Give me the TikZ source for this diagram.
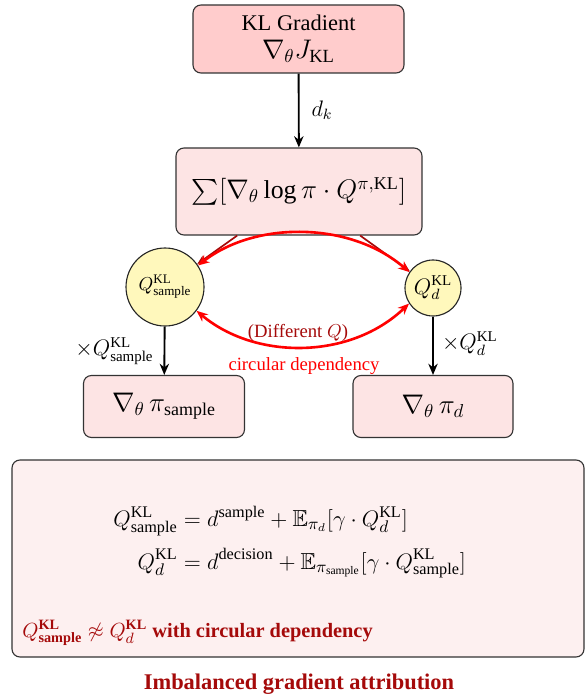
\documentclass[tikz,border=0pt]{standalone}
\usepackage{amsmath,amssymb}
\usepackage{fontspec}
\setmainfont{Liberation Serif}
\usetikzlibrary{arrows.meta}
\definecolor{darkred}{RGB}{165,10,10}
\definecolor{topfill}{RGB}{255,204,204}
\definecolor{boxfill}{RGB}{253,228,228}
\definecolor{bigfill}{RGB}{253,240,240}
\definecolor{circfill}{RGB}{255,248,188}
\newcommand{\fsz}[1]{\fontsize{#1}{#1}\selectfont}
\begin{document}
\begin{tikzpicture}[x=0.535pt,y=-0.535pt,
  pbox/.style={draw=black!80, rounded corners=8*0.535pt, line width=0.6pt, align=center, inner sep=0pt},
  qcirc/.style={circle, draw=black!85, fill=circfill, line width=0.6pt, inner sep=0pt},
  flow/.style={-{Stealth[length=6pt,width=5pt]}, line width=1pt, black},
  feed/.style={-{Stealth[length=5pt,width=4pt]}, line width=0.9pt, darkred},
  loop/.style={{Stealth[length=6pt,width=5pt]}-{Stealth[length=6pt,width=5pt]}, line width=1.4pt, red}]
\useasboundingbox (0,0) rectangle (586,700);

\node[pbox, fill=topfill, minimum width=211*0.535pt, minimum height=68*0.535pt, font=\large] (T) at (298.5,39)
  {KL Gradient\\[1pt] {\fontsize{14.2}{14}\selectfont$\nabla_\theta J_{\text{KL}}$}};
\node[pbox, fill=boxfill, minimum width=246*0.535pt, minimum height=87*0.535pt] (M) at (299,191.5)
  {\fsz{13.8}$\sum[\nabla_\theta \log \pi \cdot Q^{\pi,\text{KL}}]$};
\node[qcirc, minimum size=78*0.535pt] (L) at (165,287) {$Q^{\text{KL}}_{\text{sample}}$};
\node[qcirc, minimum size=56*0.535pt] (R) at (433,288) {\fsz{12}$Q^{\text{KL}}_{d}$};
\node[pbox, fill=boxfill, minimum width=161*0.535pt, minimum height=62*0.535pt] (B1) at (164,406.5)
  {\fsz{13.7}$\nabla_\theta\, \pi_{\text{sample}}$};
\node[pbox, fill=boxfill, minimum width=160*0.535pt, minimum height=62*0.535pt] (B2) at (433,406.5)
  {\fsz{13.7}$\nabla_\theta\, \pi_{d}$};
\node[pbox, fill=bigfill, minimum width=572*0.535pt, minimum height=197*0.535pt] (BIG) at (298,558.5) {};

\draw[flow] (T) -- node[right, pos=0.5, xshift=3pt, font=\fsz{12}] {$d_k$} (M);
\draw[feed] (M) -- (L);
\draw[feed] (M) -- (R);
\draw[loop] (L.33) .. controls (255,221) and (350,221) .. (R.146);
\draw[loop] (L.-37) .. controls (255,360) and (350,360) .. (R.213);
\node[text=darkred] (dq) at (298,333) {(Different $Q$)};
\node[text=red] (cd) at (304,366) {circular dependency};
\draw[flow] (L) -- node[left, xshift=-2pt, font=\fsz{12}] {$\times Q^{\text{KL}}_{\text{sample}}$} (B1);
\draw[flow] (R) -- node[right, xshift=1pt, yshift=1pt, font=\fsz{12}] {$\times Q^{\text{KL}}_{d}$} (B2);

\node[anchor=west, inner sep=0pt, font=\fsz{12.4}] (eq) at (113,542) {$\begin{aligned}
  Q^{\text{KL}}_{\text{sample}} &= d^{\text{sample}} + \mathbb{E}_{\pi_d}[\gamma\cdot Q^{\text{KL}}_{d}]\\[3pt]
  Q^{\text{KL}}_{d} &= d^{\text{decision}} + \mathbb{E}_{\pi_{\text{sample}}}[\gamma\cdot Q^{\text{KL}}_{\text{sample}}]
\end{aligned}$};
\node[anchor=west, text=darkred, font=\fsz{10.9}\bfseries, inner sep=0pt] (note) at (22,633)
  {$Q^{\textbf{KL}}_{\textbf{sample}} \not\approx Q^{\textbf{KL}}_{d}$ with circular dependency};
\node[text=darkred, font=\large\bfseries] (title) at (299,684) {Imbalanced gradient attribution};
\end{tikzpicture}
\end{document}
